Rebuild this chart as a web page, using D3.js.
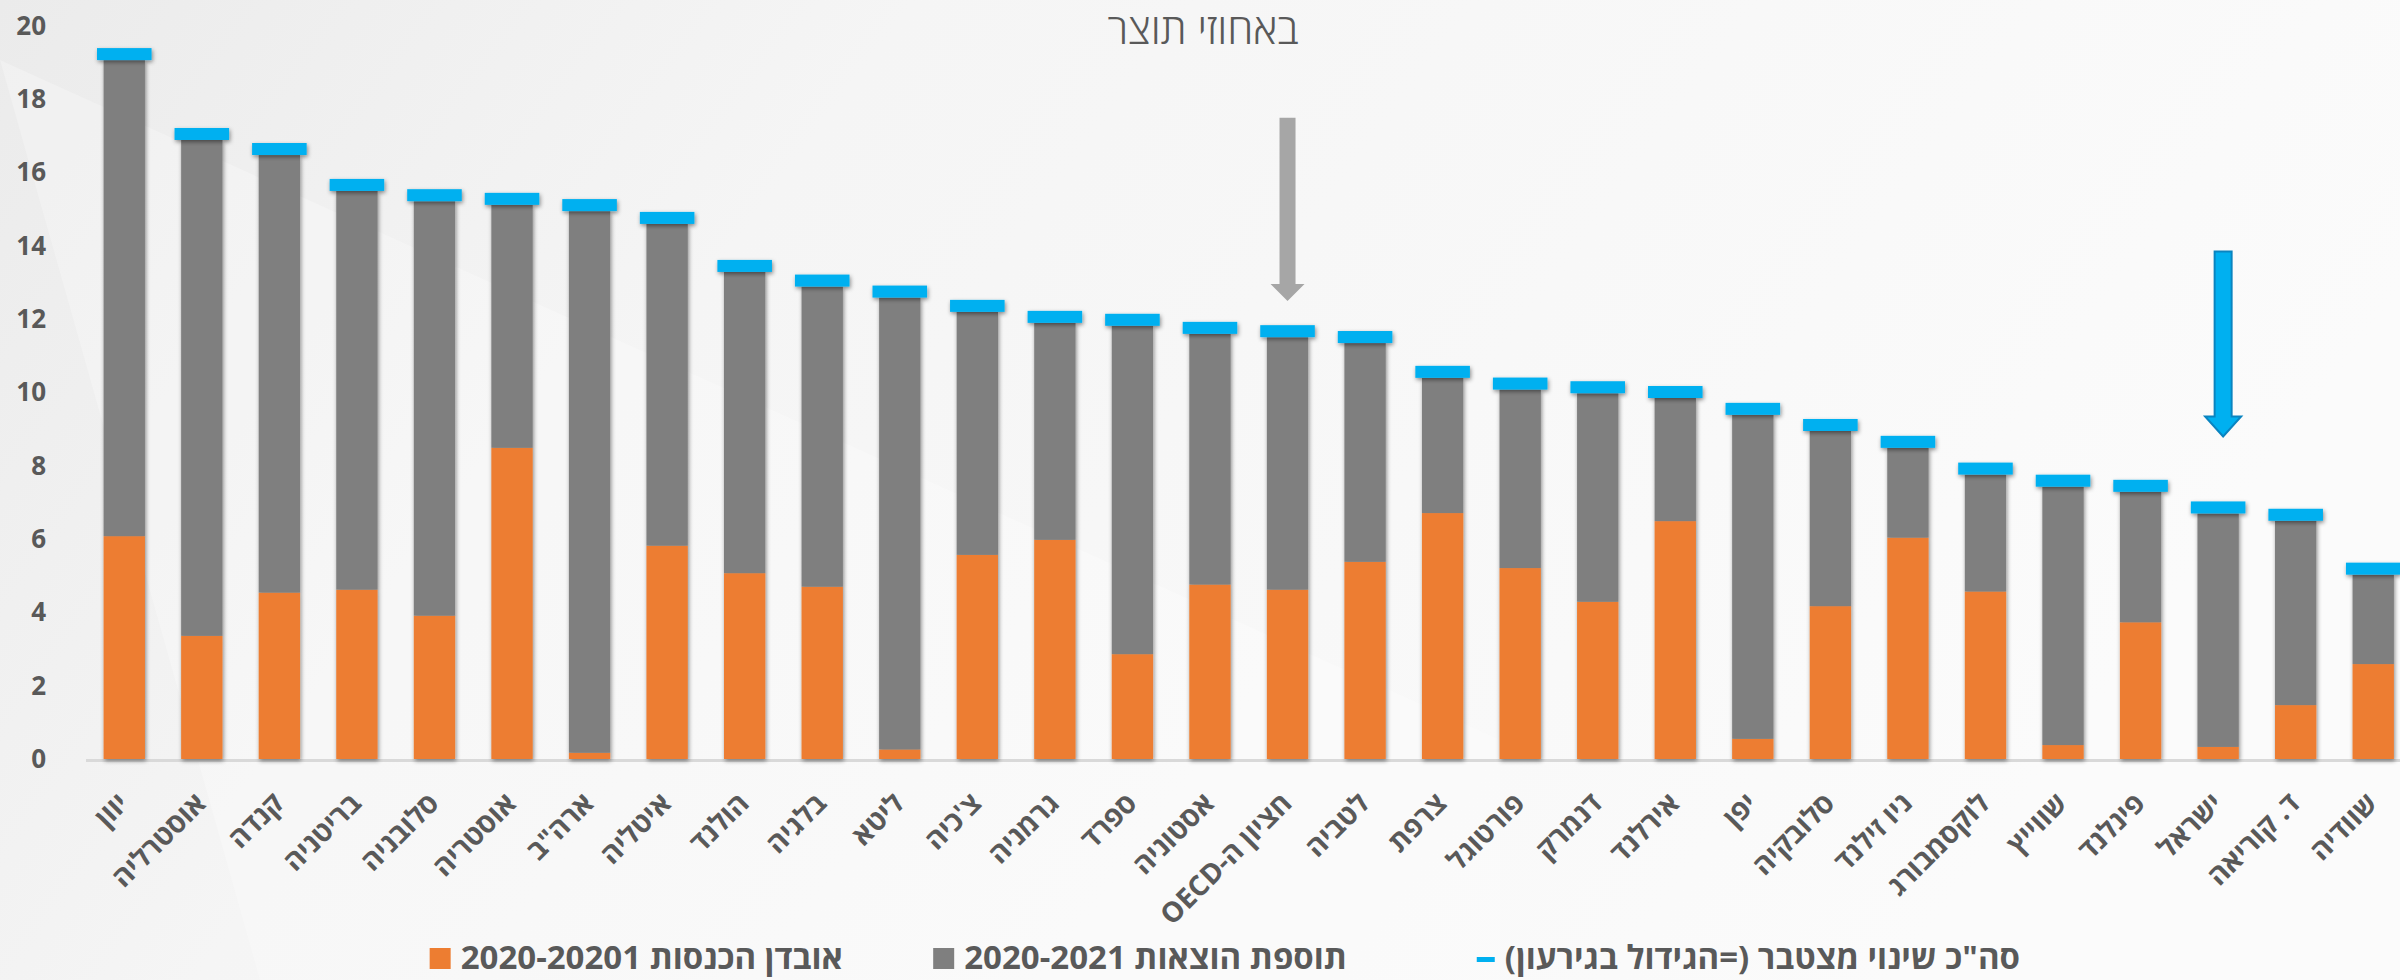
<!DOCTYPE html>
<html lang="he">
<head>
<meta charset="utf-8">
<script src="https://cdn.jsdelivr.net/npm/d3@7"></script>
<style>
  body { margin: 0; background: #f4f4f4; }
  svg { display: block; font-family: "Open Sans", "Liberation Sans", "DejaVu Sans", sans-serif; }
</style>
</head>
<body>
<svg id="chart" width="2400" height="980"></svg>
<script>
// data (percent of GDP)
var countries = ["יוון", "אוסטרליה", "קנדה", "בריטניה", "סלובניה", "אוסטריה", "ארה\"ב", "איטליה", "הולנד", "בלגיה",
                 "ליטא", "צ'כיה", "גרמניה", "ספרד", "אסטוניה", "חציון ה-OECD", "לטביה", "צרפת", "פורטוגל", "דנמרק",
                 "אירלנד", "יפן", "סלובקיה", "ניו זילנד", "לוקסמבורג", "שווייץ", "פינלנד", "ישראל", "ד. קוריאה", "שוודיה"];
var incomeLoss = [6.08, 3.36, 4.54, 4.62, 3.91, 8.49, 0.17, 5.82, 5.07, 4.70,
                  0.26, 5.57, 5.98, 2.86, 4.76, 4.62, 5.38, 6.71, 5.21, 4.29,
                  6.49, 0.55, 4.17, 6.04, 4.57, 0.38, 3.73, 0.33, 1.47, 2.59];
var expenseAdd = [12.99, 13.53, 11.94, 10.88, 11.31, 6.63, 14.78, 8.78, 8.22, 8.19,
                  12.33, 6.63, 5.92, 8.96, 6.84, 6.89, 5.97, 3.69, 4.87, 5.69,
                  3.36, 8.84, 4.78, 2.45, 3.19, 7.05, 3.56, 6.37, 5.03, 2.44];
var totalChange = [19.07, 16.89, 16.48, 15.50, 15.22, 15.12, 14.95, 14.60, 13.29, 12.89,
                   12.59, 12.20, 11.90, 11.82, 11.60, 11.51, 11.35, 10.40, 10.08, 9.98,
                   9.85, 9.39, 8.95, 8.49, 7.76, 7.43, 7.29, 6.70, 6.50, 5.03];
var yTicks = [0, 2, 4, 6, 8, 10, 12, 14, 16, 18, 20];
var seriesNames = ["אובדן הכנסות 2020-20201", "תוספת הוצאות 2020-2021", "סה\"כ שינוי מצטבר (=הגידול בגירעון)"];
var title = "באחוזי תוצר";

var colors = {loss: "#ed7d31", add: "#7f7f7f", total: "#00b0f0"};

var svg = d3.select("#chart");

// background
var defs = svg.append("defs");
var bg = defs.append("linearGradient").attr("id", "bg").attr("x1", 0).attr("x2", 1).attr("y1", 0).attr("y2", 0.3);
bg.append("stop").attr("offset", "0%").attr("stop-color", "#ebebeb");
bg.append("stop").attr("offset", "35%").attr("stop-color", "#f5f5f5");
bg.append("stop").attr("offset", "100%").attr("stop-color", "#fbfbfb");
var sh = defs.append("filter").attr("id", "shadow").attr("x", "-20%").attr("y", "-5%").attr("width", "140%").attr("height", "110%");
sh.append("feDropShadow").attr("dx", 1).attr("dy", 2).attr("stdDeviation", 2)
    .attr("flood-color", "#000").attr("flood-opacity", 0.45);

svg.append("rect").attr("width", 2400).attr("height", 980).attr("fill", "url(#bg)");
// faint light wedge like the slide background
svg.append("polygon")
    .attr("points", "0,60 1500,740 1500,980 260,980")
    .attr("fill", "#ffffff").attr("opacity", 0.25);

var x = d3.scaleBand()
    .domain(countries)
    .range([85.5, 2412])
    .paddingInner(0.467)
    .paddingOuter(0.2335);

var y = d3.scaleLinear()
    .domain([0, 20])
    .range([759, 26]);

var bw = x.bandwidth();

// x axis (baseline + rotated labels)
var xAxis = svg.append("g")
    .attr("transform", "translate(0," + 760 + ")")
    .call(d3.axisBottom(x).tickSize(0).tickSizeOuter(0));
xAxis.select(".domain").attr("stroke", "#d9d9d9").attr("stroke-width", 3);
xAxis.selectAll("text")
    .attr("x", 0).attr("y", 0).attr("dy", 0)
    .attr("direction", "rtl")
    .attr("text-anchor", "start")
    .attr("transform", "translate(6,45) rotate(-45)")
    .attr("font-family", "\"Open Sans\", \"Liberation Sans\", \"DejaVu Sans\", sans-serif")
    .attr("font-size", 28)
    .attr("font-weight", "bold")
    .attr("fill", "#595959");

// y axis
var yAxis = svg.append("g")
    .attr("transform", "translate(56,0)")
    .call(d3.axisLeft(y).tickValues(yTicks).tickSize(0).tickPadding(10));
yAxis.select(".domain").remove();
yAxis.selectAll("text")
    .attr("font-family", "\"Open Sans\", \"Liberation Sans\", \"DejaVu Sans\", sans-serif")
    .attr("font-size", 26)
    .attr("font-weight", "bold")
    .attr("fill", "#595959");

// stacked bars
var bars = svg.append("g").attr("filter", "url(#shadow)");
bars.selectAll("rect.loss")
    .data(countries)
    .enter().append("rect")
    .attr("class", "loss")
    .attr("x", function(d) { return x(d); })
    .attr("width", bw)
    .attr("y", function(d, i) { return y(incomeLoss[i]); })
    .attr("height", function(d, i) { return y(0) - y(incomeLoss[i]); })
    .attr("fill", colors.loss);

bars.selectAll("rect.add")
    .data(countries)
    .enter().append("rect")
    .attr("class", "add")
    .attr("x", function(d) { return x(d); })
    .attr("width", bw)
    .attr("y", function(d, i) { return y(incomeLoss[i] + expenseAdd[i]); })
    .attr("height", function(d, i) { return y(incomeLoss[i]) - y(incomeLoss[i] + expenseAdd[i]); })
    .attr("fill", colors.add);

// total change markers (dash sitting on top of each bar)
var capW = bw * 1.32, capH = 12;
svg.append("g").attr("filter", "url(#shadow)")
    .selectAll("rect")
    .data(countries)
    .enter().append("rect")
    .attr("x", function(d) { return x(d) + bw / 2 - capW / 2; })
    .attr("width", capW)
    .attr("y", function(d, i) { return y(totalChange[i]) - capH; })
    .attr("height", capH)
    .attr("fill", colors.total);

// arrows
function arrow(cx, yTop, yTip, shaftW, headW, headH, fill, stroke) {
    var yHead = y(yTip) - headH;
    var pts = [
        [cx - shaftW / 2, y(yTop)], [cx + shaftW / 2, y(yTop)], [cx + shaftW / 2, yHead],
        [cx + headW / 2, yHead], [cx, y(yTip)], [cx - headW / 2, yHead], [cx - shaftW / 2, yHead]
    ];
    svg.append("polygon")
        .attr("points", pts.map(function(p) { return p.join(","); }).join(" "))
        .attr("fill", fill)
        .attr("stroke", stroke || "none")
        .attr("stroke-width", stroke ? 2 : 0);
}
arrow(x("חציון ה-OECD") + bw / 2, 17.5, 12.5, 16, 34, 17, "#a6a6a6");
arrow(x("ישראל") + bw / 2 + 5, 13.85, 8.8, 17, 36, 20, "#00b0f0", "#0a84c0");

// title
svg.append("text")
    .attr("x", 1203)
    .attr("y", 44)
    .attr("text-anchor", "middle")
    .attr("direction", "rtl")
    .attr("font-size", 42)
    .attr("font-weight", 300)
    .attr("fill", "#595959")
    .text(title);

// legend (right edge of each label)
var legendRight = [843, 1347, 2020];
var legendColors = [colors.loss, colors.add, colors.total];
seriesNames.forEach(function(name, i) {
    var t = svg.append("text")
        .attr("x", legendRight[i])
        .attr("y", 969)
        .attr("direction", "rtl")
        .attr("text-anchor", "start")
        .attr("font-size", 33)
        .attr("font-weight", "bold")
        .attr("fill", "#595959")
        .text(name);
    var len = t.node().getComputedTextLength();
    var left = legendRight[i] - len - 10;
    if (i < 2) {
        svg.append("rect").attr("x", left - 21).attr("y", 948).attr("width", 21).attr("height", 21)
            .attr("fill", legendColors[i]);
    } else {
        svg.append("rect").attr("x", left - 18).attr("y", 957).attr("width", 18).attr("height", 5)
            .attr("fill", legendColors[i]);
    }
});
</script>
</body>
</html>
